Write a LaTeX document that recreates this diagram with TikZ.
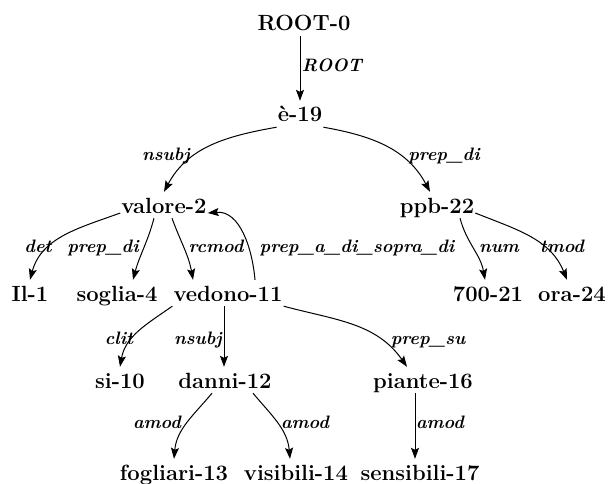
\documentclass[tikz,border=0pt]{standalone}
\usetikzlibrary{arrows.meta}
\begin{document}
\begin{tikzpicture}[x=1pt,y=1pt,
  word/.style={anchor=base,inner sep=1pt,text height=20pt,text depth=4pt,font=\fontsize{22}{26}\selectfont\bfseries},
  lab/.style={anchor=base,inner sep=0pt,font=\fontsize{18}{21}\selectfont\bfseries\itshape},
  dep/.style={line width=1pt,-{Stealth[length=11pt,width=8pt,inset=2pt]}}]
\useasboundingbox (0,0) rectangle (608,483);
% nodes
\node[word] (root) at (304,452) {ROOT-0};
\node[word] (e19) at (300,361) {è-19};
\node[word] (valore) at (164,270) {valore-2};
\node[word] (ppb) at (437,270) {ppb-22};
\node[word] (il) at (30,182) {Il-1};
\node[word] (soglia) at (117,182) {soglia-4};
\node[word] (vedono) at (228,182) {vedono-11};
\node[word] (n700) at (488,182) {700-21};
\node[word] (ora) at (572,182) {ora-24};
\node[word] (si) at (120,95) {si-10};
\node[word] (danni) at (225,95) {danni-12};
\node[word] (piante) at (423,95) {piante-16};
\node[word] (fogliari) at (174,3) {fogliari-13};
\node[word] (visibili) at (296,3) {visibili-14};
\node[word] (sensibili) at (420,3) {sensibili-17};
% labels
\node[lab] (lroot) at (332,411) {ROOT};
\node[lab] (lnsubj) at (166,323) {nsubj};
\node[lab] (lprepdi) at (444,323) {prep\_di};
\node[lab] (ldet) at (38,231) {det};
\node[lab] (lprepdi2) at (103,231) {prep\_di};
\node[lab] (lrcmod) at (216,231) {rcmod};
\node[lab] (lprepadi) at (357,231) {prep\_a\_di\_sopra\_di};
\node[lab] (lnum) at (499,231) {num};
\node[lab] (ltmod) at (562,231) {tmod};
\node[lab] (lclit) at (119,139) {clit};
\node[lab] (lnsubj2) at (198,139) {nsubj};
\node[lab] (lprepsu) at (428,139) {prep\_su};
\node[lab] (lamod1) at (157,55) {amod};
\node[lab] (lamod2) at (305,55) {amod};
\node[lab] (lamod3) at (440,55) {amod};
% edges
\draw[dep] ([xshift=-4pt]root.south) -- (e19.north);
\draw[dep] (e19.south west) to[out=190,in=62] (valore.north);
\draw[dep] (e19.south east) to[out=-10,in=118] ([xshift=-7pt]ppb.north);
\draw[dep] (valore.base west) to[out=200,in=75] (il.north);
\draw[dep] ([xshift=-10pt]valore.south) to[out=-105,in=75] ([xshift=16pt]soglia.north);
\draw[dep] ([xshift=8pt]valore.south) to[out=-70,in=100] ([xshift=-35pt]vedono.north);
\draw[dep] ([xshift=27pt]vedono.north) to[out=95,in=5] (valore.base east);
\draw[dep] ([xshift=23pt]ppb.south) to[out=-75,in=100] ([xshift=-3pt]n700.north);
\draw[dep] (ppb.base east) to[out=-22,in=112] ([xshift=-5pt]ora.north);
\draw[dep] (vedono.south west) to[out=215,in=80] (si.north);
\draw[dep] ([xshift=-4pt]vedono.south) -- ([xshift=-1pt]danni.north);
\draw[dep] (vedono.south east) to[out=-15,in=125] ([xshift=-16pt]piante.north);
\draw[dep] ([xshift=-13pt]danni.south) to[out=-130,in=85] (fogliari.north);
\draw[dep] ([xshift=28pt]danni.south) to[out=-50,in=95] ([xshift=-6pt]visibili.north);
\draw[dep] ([xshift=-8pt]piante.south) -- ([xshift=-5pt]sensibili.north);
\end{tikzpicture}
\end{document}
